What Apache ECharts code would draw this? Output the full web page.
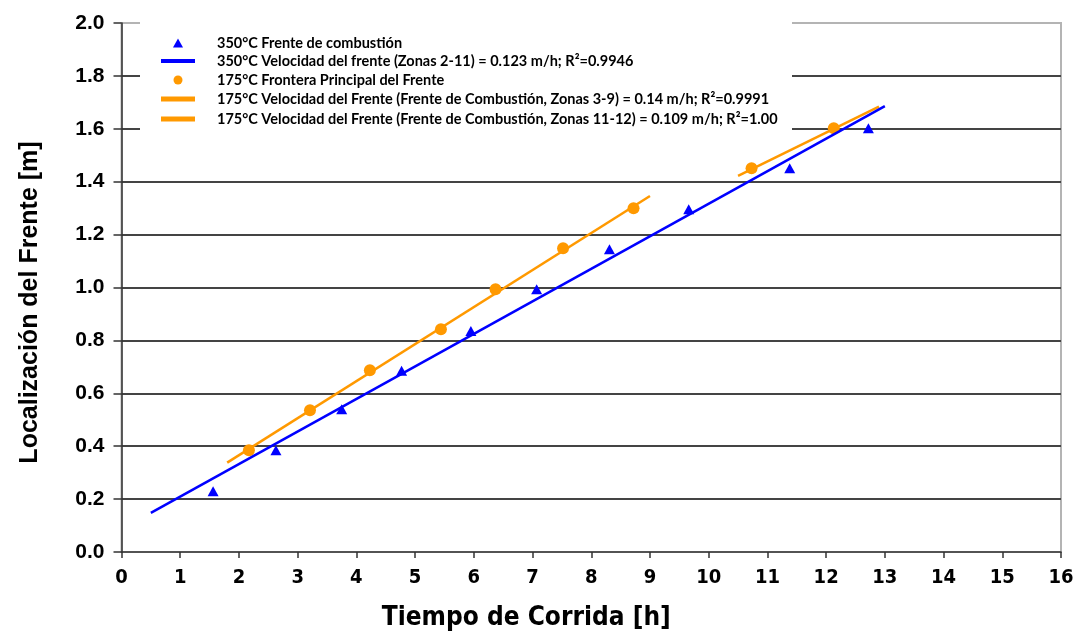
<!DOCTYPE html>
<html>
<head>
<meta charset="utf-8">
<script src="https://cdn.jsdelivr.net/npm/echarts@6/dist/echarts.min.js"></script>
<style>
  html, body { margin: 0; padding: 0; background: #fff; }
  #chart { width: 1078px; height: 637px; }
</style>
</head>
<body>
<div id="chart"></div>
<script>
// Front position vs run time, combustion tube test
const xTicks = [0, 16, 1];
const yTicks = [0, 2, 0.2];

// 350 °C combustion front (time h, position m)
const front350 = [
  [1.56, 0.23], [2.63, 0.385], [3.75, 0.54], [4.77, 0.685], [5.95, 0.836],
  [7.07, 0.993], [8.31, 1.145], [9.66, 1.296], [11.38, 1.451], [12.72, 1.602]
];
// 175 °C leading edge of the front
const front175 = [
  [2.17, 0.385], [3.21, 0.536], [4.23, 0.687], [5.44, 0.842], [6.37, 0.993],
  [7.52, 1.148], [8.72, 1.30], [10.73, 1.451], [12.13, 1.602]
];
// Fitted velocity lines (end points)
const fit350 = [[0.5, 0.148], [13.0, 1.686]];
const fit175a = [[1.8, 0.338], [9.0, 1.346]];
const fit175b = [[10.5, 1.422], [12.9, 1.684]];

const names = [
  '350°C Frente de combustión',
  '350°C Velocidad del frente (Zonas 2-11) = 0.123 m/h; R²=0.9946',
  '175°C Frontera Principal del Frente',
  '175°C Velocidad del Frente (Frente de Combustión, Zonas 3-9) = 0.14 m/h; R²=0.9991',
  '175°C Velocidad del Frente (Frente de Combustión, Zonas 11-12) = 0.109 m/h; R²=1.00'
];

const BLUE = '#0000ff';
const ORANGE = '#ff9900';
const NARROW = "'Liberation Sans Narrow', 'DejaVu Sans Condensed', 'Roboto Condensed', 'Liberation Sans', sans-serif";
const legendFont = { fontFamily: 'Lato', fontWeight: 'bold', fontSize: 14.5, color: '#000', lineHeight: 17 };

// one legend row per entry so each icon keeps its own size
const legendRows = [
  { icon: 'triangle', w: 10, h: 9, color: BLUE, center: 38, textShift: 5 },
  { icon: 'rect', w: 34, h: 4, color: BLUE, center: 59, textShift: 2 },
  { icon: 'circle', w: 9, h: 9, color: ORANGE, center: 79, textShift: 1 },
  { icon: 'rect', w: 34, h: 5, color: ORANGE, center: 99, textShift: 0 },
  { icon: 'rect', w: 34, h: 5, color: ORANGE, center: 119, textShift: 0 }
];
const legends = legendRows.map((r, i) => ({
  data: [{ name: names[i], icon: r.icon, itemStyle: { color: r.color } }],
  left: 178 - r.w / 2,
  top: r.center - 8.5,
  padding: 0,
  itemWidth: r.w,
  itemHeight: r.h,
  selectedMode: false,
  textStyle: Object.assign({}, legendFont, {
    padding: [r.textShift * 2, 0, 0, 217 - (178 + r.w / 2) - 5]
  }),
  z: 5
}));

const axisFontX = { fontFamily: NARROW, fontWeight: 'bold', fontSize: 20, color: '#000' };
const axisFontY = { fontFamily: 'Liberation Sans', fontWeight: 'bold', fontSize: 21, color: '#000' };

const chart = echarts.init(document.getElementById('chart'));
chart.setOption({
  animation: false,
  backgroundColor: '#fff',
  grid: {
    left: 121.5, right: 17, top: 23, bottom: 85,
    show: true, borderColor: '#b4b4b4', borderWidth: 2, backgroundColor: 'transparent'
  },
  graphic: [{
    type: 'rect', left: 140, top: 20, z: 3,
    shape: { width: 652, height: 116 },
    style: { fill: '#fff' }
  }],
  legend: legends,
  xAxis: {
    type: 'value', min: xTicks[0], max: xTicks[1], interval: xTicks[2],
    name: 'Tiempo de Corrida [h]', nameLocation: 'middle', nameGap: 53,
    nameTextStyle: { fontFamily: NARROW, fontWeight: 'bold', fontSize: 26, color: '#000', padding: [0, 130, 0, 0] },
    axisLine: { lineStyle: { color: '#333', width: 1.5 } },
    axisTick: { show: true, inside: false, length: 6, lineStyle: { color: '#333', width: 1.5 } },
    axisLabel: Object.assign({ margin: 16 }, axisFontX),
    splitLine: { show: false }
  },
  yAxis: {
    type: 'value', min: yTicks[0], max: yTicks[1], interval: yTicks[2],
    name: 'Localización del Frente [m]', nameLocation: 'middle', nameGap: 79,
    nameTextStyle: { fontFamily: 'Liberation Sans', fontWeight: 'bold', fontSize: 25, color: '#000', padding: [0, 30, 0, 0] },
    axisLine: { show: true, lineStyle: { color: '#333', width: 1.5 } },
    axisTick: { show: true, inside: false, length: 8, lineStyle: { color: '#333', width: 1.5 } },
    axisLabel: Object.assign({ margin: 17, formatter: v => v.toFixed(1) }, axisFontY),
    splitLine: { show: true, showMinLine: false, showMaxLine: false, lineStyle: { color: '#444', width: 2 } }
  },
  series: [
    {
      name: names[3], type: 'line', data: fit175a, showSymbol: false, symbol: 'none',
      lineStyle: { color: ORANGE, width: 2.5 }, itemStyle: { color: ORANGE }, z: 2
    },
    {
      name: names[4], type: 'line', data: fit175b, showSymbol: false, symbol: 'none',
      lineStyle: { color: ORANGE, width: 2.5 }, itemStyle: { color: ORANGE }, z: 2
    },
    {
      name: names[2], type: 'scatter', data: front175, symbol: 'circle', symbolSize: 12,
      itemStyle: { color: ORANGE, opacity: 1 }, z: 3
    },
    {
      name: names[1], type: 'line', data: fit350, showSymbol: false, symbol: 'none',
      lineStyle: { color: BLUE, width: 2.5 }, itemStyle: { color: BLUE }, z: 4
    },
    {
      name: names[0], type: 'scatter', data: front350, symbol: 'triangle', symbolSize: [11, 10],
      itemStyle: { color: BLUE, opacity: 1 }, z: 5
    }
  ]
});
</script>
</body>
</html>
